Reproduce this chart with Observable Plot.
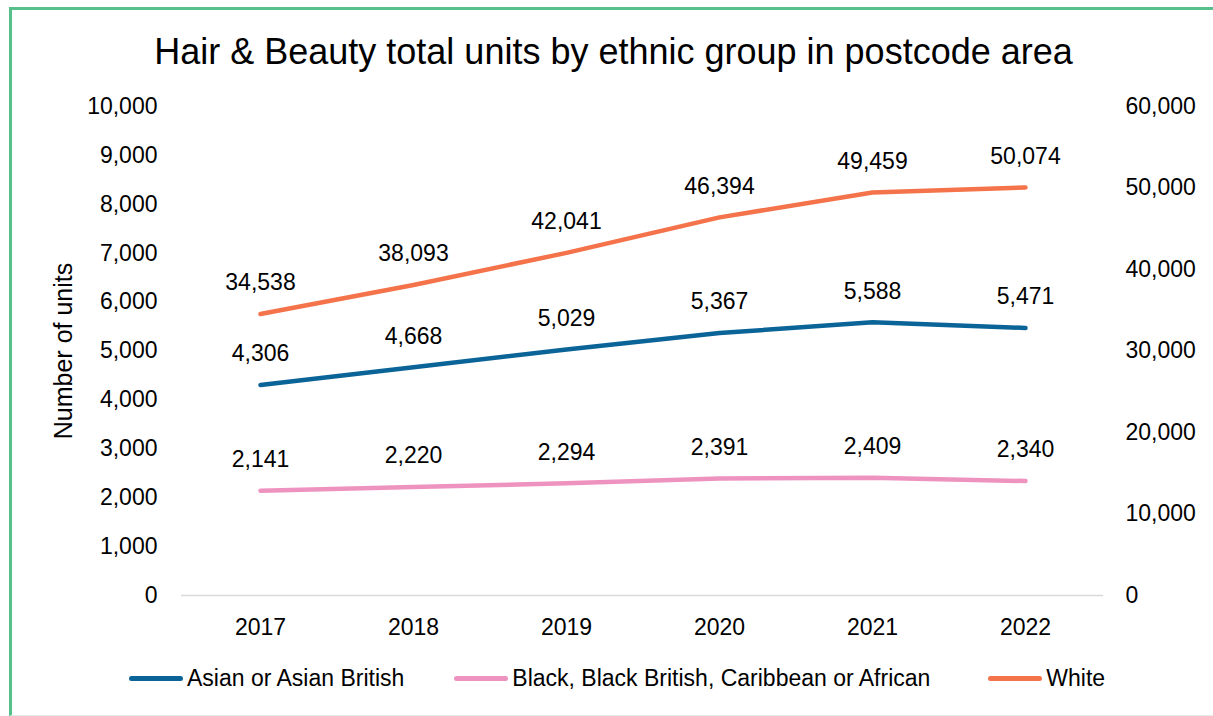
<!DOCTYPE html>
<html><head><meta charset="utf-8">
<script src="https://cdn.jsdelivr.net/npm/d3@7"></script>
<script src="https://cdn.jsdelivr.net/npm/@observablehq/plot@0.6"></script>
<style>
body{margin:0;background:#fff;font-family:"Liberation Sans",Arial,sans-serif;color:#000;}
#wrap{position:relative;width:1213px;height:716px;overflow:hidden;background:#fff;}
#frame{position:absolute;left:9px;top:7px;width:1300px;height:705px;border-top:3px solid #57c08a;border-left:3px solid #57c08a;border-bottom:1px solid #e2ebe7;pointer-events:none;}
#title{height:90px;box-sizing:border-box;padding-top:30px;padding-left:14px;line-height:44px;text-align:center;font-size:36px;white-space:nowrap;}
#chart{height:560px;}
#legend{position:absolute;left:129px;top:664px;display:flex;align-items:center;font-size:23px;line-height:28px;white-space:nowrap;}
.item{display:flex;align-items:center;margin-right:50px;}
.item:nth-child(2){margin-right:58px;}
.sw{width:54px;height:5px;border-radius:3px;margin-right:4px;}
</style></head><body>
<div id="wrap">
  <div id="frame"></div>
  <div id="title">Hair &amp; Beauty total units by ethnic group in postcode area</div>
  <div id="chart"></div>
  <div id="legend"></div>
</div>
<script>
const years = ["2017","2018","2019","2020","2021","2022"];
const seriesNames = ["Asian or Asian British","Black, Black British, Caribbean or African","White"];
const seriesColors = ["#0b6497","#ee93c0","#f4734a"];
const asian = [4306,4668,5029,5367,5588,5471];
const black = [2141,2220,2294,2391,2409,2340];
const white = [34538,38093,42041,46394,49459,50074];
const leftTicks = [0,1000,2000,3000,4000,5000,6000,7000,8000,9000,10000];
const rightTicks = [0,10000,20000,30000,40000,50000,60000];
const leftMax = 10000, rightMax = 60000;
const ratio = rightMax / leftMax;

const fmt = d3.format(",");
const rows = [];
[asian, black, white].forEach((vals, si) => {
  vals.forEach((v, i) => {
    rows.push({series: seriesNames[si], year: years[i], value: v, plotted: si === 2 ? v / ratio : v});
  });
});

const chart = Plot.plot({
  width: 1213,
  height: 560,
  marginTop: 16,
  marginBottom: 55,
  marginLeft: 181,
  marginRight: 110,
  style: {fontFamily: '"Liberation Sans", Arial, sans-serif', fontSize: "23px", color: "#000", background: "transparent"},
  x: {type: "point", domain: years, padding: 0.5, axis: null},
  y: {domain: [0, leftMax], axis: null},
  color: {domain: seriesNames, range: seriesColors},
  marks: [
    Plot.ruleY([0], {stroke: "#d9d9d9", strokeWidth: 1.3}),
    Plot.axisX({tickSize: 0, tickPadding: 23, fontSize: 23, label: null}),
    Plot.axisY(leftTicks, {anchor: "left", tickSize: 0, tickPadding: 24, tickFormat: fmt, fontSize: 23, label: null}),
    Plot.axisY(rightTicks.map(v => v / ratio), {anchor: "right", tickSize: 0, tickPadding: 22, tickFormat: d => fmt(Math.round(d * ratio)), fontSize: 23, label: null}),
    Plot.lineY(rows, {x: "year", y: "plotted", z: "series", stroke: "series", strokeWidth: 4.5, strokeLinecap: "round", strokeLinejoin: "round"}),
    Plot.text(rows, {x: "year", y: "plotted", text: d => fmt(d.value), dy: -31, fontSize: 23, fill: "#000"}),
    Plot.text(["Number of units"], {frameAnchor: "left", textAnchor: "middle", rotate: -90, dx: -118, fontSize: 25, fill: "#000"})
  ]
});
document.getElementById("chart").appendChild(chart);

const legend = document.getElementById("legend");
seriesNames.forEach((name, i) => {
  const item = document.createElement("div");
  item.className = "item";
  const sw = document.createElement("div");
  sw.className = "sw";
  sw.style.background = seriesColors[i];
  const t = document.createElement("span");
  t.textContent = name;
  item.appendChild(sw);
  item.appendChild(t);
  legend.appendChild(item);
});
</script>
</body></html>
